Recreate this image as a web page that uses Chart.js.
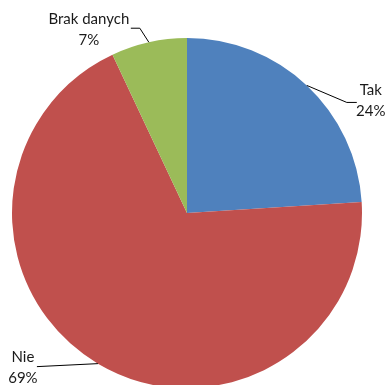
<!DOCTYPE html>
<html><head><meta charset="utf-8">
<script src="https://cdn.jsdelivr.net/npm/chart.js@4/dist/chart.umd.min.js"></script>
<style>
html,body{margin:0;padding:0;background:#fff;overflow:hidden;}
#wrap{position:relative;width:387px;height:391px;}
</style></head><body>
<div id="wrap"><canvas id="c" width="387" height="391"></canvas></div>
<script>
const categories = ["Tak", "Nie", "Brak danych"];
const values = [24, 69, 7];
const colors = ["#4F81BD", "#C0504D", "#9BBB59"];
// label layout (per category): elbow offset from arc point, end offset, text offset from line end
const labelLayout = [
  {elbow:[40,17], end:[50,17], text:[14,-12]},
  {elbow:[-61,3], end:[-61,3], text:[-14,-9]},
  {elbow:[-9,-14], end:[-18,-14], text:[-42,-9]}
];

const labelPlugin = {
  id:'leaderLabels',
  afterDatasetsDraw(chart){
    const ctx = chart.ctx;
    const meta = chart.getDatasetMeta(0);
    const total = values.reduce((a,b)=>a+b,0);
    meta.data.forEach((arc,i)=>{
      const mid = (arc.startAngle + arc.endAngle)/2;
      const px = arc.x + Math.cos(mid)*arc.outerRadius;
      const py = arc.y + Math.sin(mid)*arc.outerRadius;
      const L = labelLayout[i];
      ctx.save();
      ctx.strokeStyle = '#000';
      ctx.lineWidth = 1;
      ctx.beginPath();
      ctx.moveTo(px, py);
      ctx.lineTo(px+L.elbow[0], py+L.elbow[1]);
      ctx.lineTo(px+L.end[0], py+L.end[1]);
      ctx.stroke();
      ctx.fillStyle = '#1a1a1a';
      ctx.font = '15px Lato, "Liberation Sans", sans-serif';
      ctx.textAlign = 'center';
      ctx.textBaseline = 'middle';
      const tx = px+L.end[0]+L.text[0];
      const ty = py+L.end[1]+L.text[1];
      ctx.fillText(categories[i], tx, ty);
      ctx.fillText(Math.round(values[i]/total*100)+'%', tx, ty+21);
      ctx.restore();
    });
  }
};

new Chart(document.getElementById('c'), {
  type:'pie',
  data:{labels:categories, datasets:[{data:values, backgroundColor:colors, borderWidth:0}]},
  options:{
    responsive:false, animation:false,
    layout:{padding:{left:12,right:25,top:38,bottom:3}},
    plugins:{legend:{display:false}, tooltip:{enabled:false}}
  },
  plugins:[labelPlugin]
});
</script></body></html>
